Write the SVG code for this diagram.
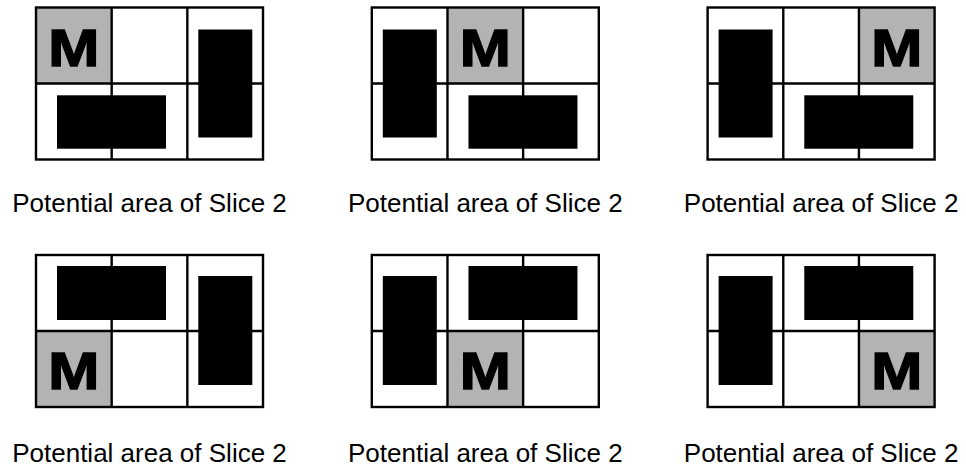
<svg xmlns="http://www.w3.org/2000/svg" width="966" height="468" viewBox="0 0 966 468">
<style>
.bg{fill:#ffffff}
.cell{fill:#b3b3b3;stroke:none}
.grid{fill:none;stroke:#000;stroke-width:2.4}
.blk{fill:#000;stroke:none}
.m{font-family:"Liberation Sans",Arial,sans-serif;font-weight:bold;font-size:52px;text-anchor:middle;fill:#000;stroke:#000;stroke-width:1.4;stroke-linejoin:miter}
.cap{font-family:"Liberation Sans",Arial,sans-serif;font-size:26px;text-anchor:middle;fill:#000}
</style>
<defs>
<g id="gridlines">
<rect class="grid" x="0" y="0" width="227" height="152"/>
<line class="grid" x1="75.67" y1="0" x2="75.67" y2="152"/>
<line class="grid" x1="151.33" y1="0" x2="151.33" y2="152"/>
<line class="grid" x1="0" y1="76" x2="227" y2="76"/>
</g>
</defs>
<rect class="bg" x="0" y="0" width="966" height="468"/>

<g id="panel1" transform="translate(36,7.5)">
<rect class="cell" x="0" y="0" width="75.67" height="76"/>
<use href="#gridlines"/>
<rect class="blk" x="21" y="87.8" width="109" height="53.4"/>
<rect class="blk" x="162.3" y="22" width="54" height="108"/>
<text class="m" transform="translate(37.8,58.5) scale(1.18,1)">M</text>
<text class="cap" x="113.5" y="204.8">Potential area of Slice 2</text>
</g>

<g id="panel2" transform="translate(371.8,7.5)">
<rect class="cell" x="75.67" y="0" width="75.67" height="76"/>
<use href="#gridlines"/>
<rect class="blk" x="96.67" y="87.8" width="109" height="53.4"/>
<rect class="blk" x="11" y="22" width="54" height="108"/>
<text class="m" transform="translate(113.5,58.5) scale(1.18,1)">M</text>
<text class="cap" x="113.5" y="204.8">Potential area of Slice 2</text>
</g>

<g id="panel3" transform="translate(707.6,7.5)">
<rect class="cell" x="151.33" y="0" width="75.67" height="76"/>
<use href="#gridlines"/>
<rect class="blk" x="96.67" y="87.8" width="109" height="53.4"/>
<rect class="blk" x="11" y="22" width="54" height="108"/>
<text class="m" transform="translate(189.2,58.5) scale(1.18,1)">M</text>
<text class="cap" x="113.5" y="204.8">Potential area of Slice 2</text>
</g>

<g id="panel4" transform="translate(36,255)">
<rect class="cell" x="0" y="76" width="75.67" height="76"/>
<use href="#gridlines"/>
<rect class="blk" x="21" y="11" width="109" height="54"/>
<rect class="blk" x="162.3" y="21" width="54" height="109"/>
<text class="m" transform="translate(37.8,133.8) scale(1.18,1)">M</text>
<text class="cap" x="113.5" y="207.3">Potential area of Slice 2</text>
</g>

<g id="panel5" transform="translate(371.8,255)">
<rect class="cell" x="75.67" y="76" width="75.67" height="76"/>
<use href="#gridlines"/>
<rect class="blk" x="96.67" y="11" width="109" height="54"/>
<rect class="blk" x="11" y="21" width="54" height="109"/>
<text class="m" transform="translate(113.5,133.8) scale(1.18,1)">M</text>
<text class="cap" x="113.5" y="207.3">Potential area of Slice 2</text>
</g>

<g id="panel6" transform="translate(707.6,255)">
<rect class="cell" x="151.33" y="76" width="75.67" height="76"/>
<use href="#gridlines"/>
<rect class="blk" x="96.67" y="11" width="109" height="54"/>
<rect class="blk" x="11" y="21" width="54" height="109"/>
<text class="m" transform="translate(189.2,133.8) scale(1.18,1)">M</text>
<text class="cap" x="113.5" y="207.3">Potential area of Slice 2</text>
</g>

<g id="connectors"></g>
</svg>
